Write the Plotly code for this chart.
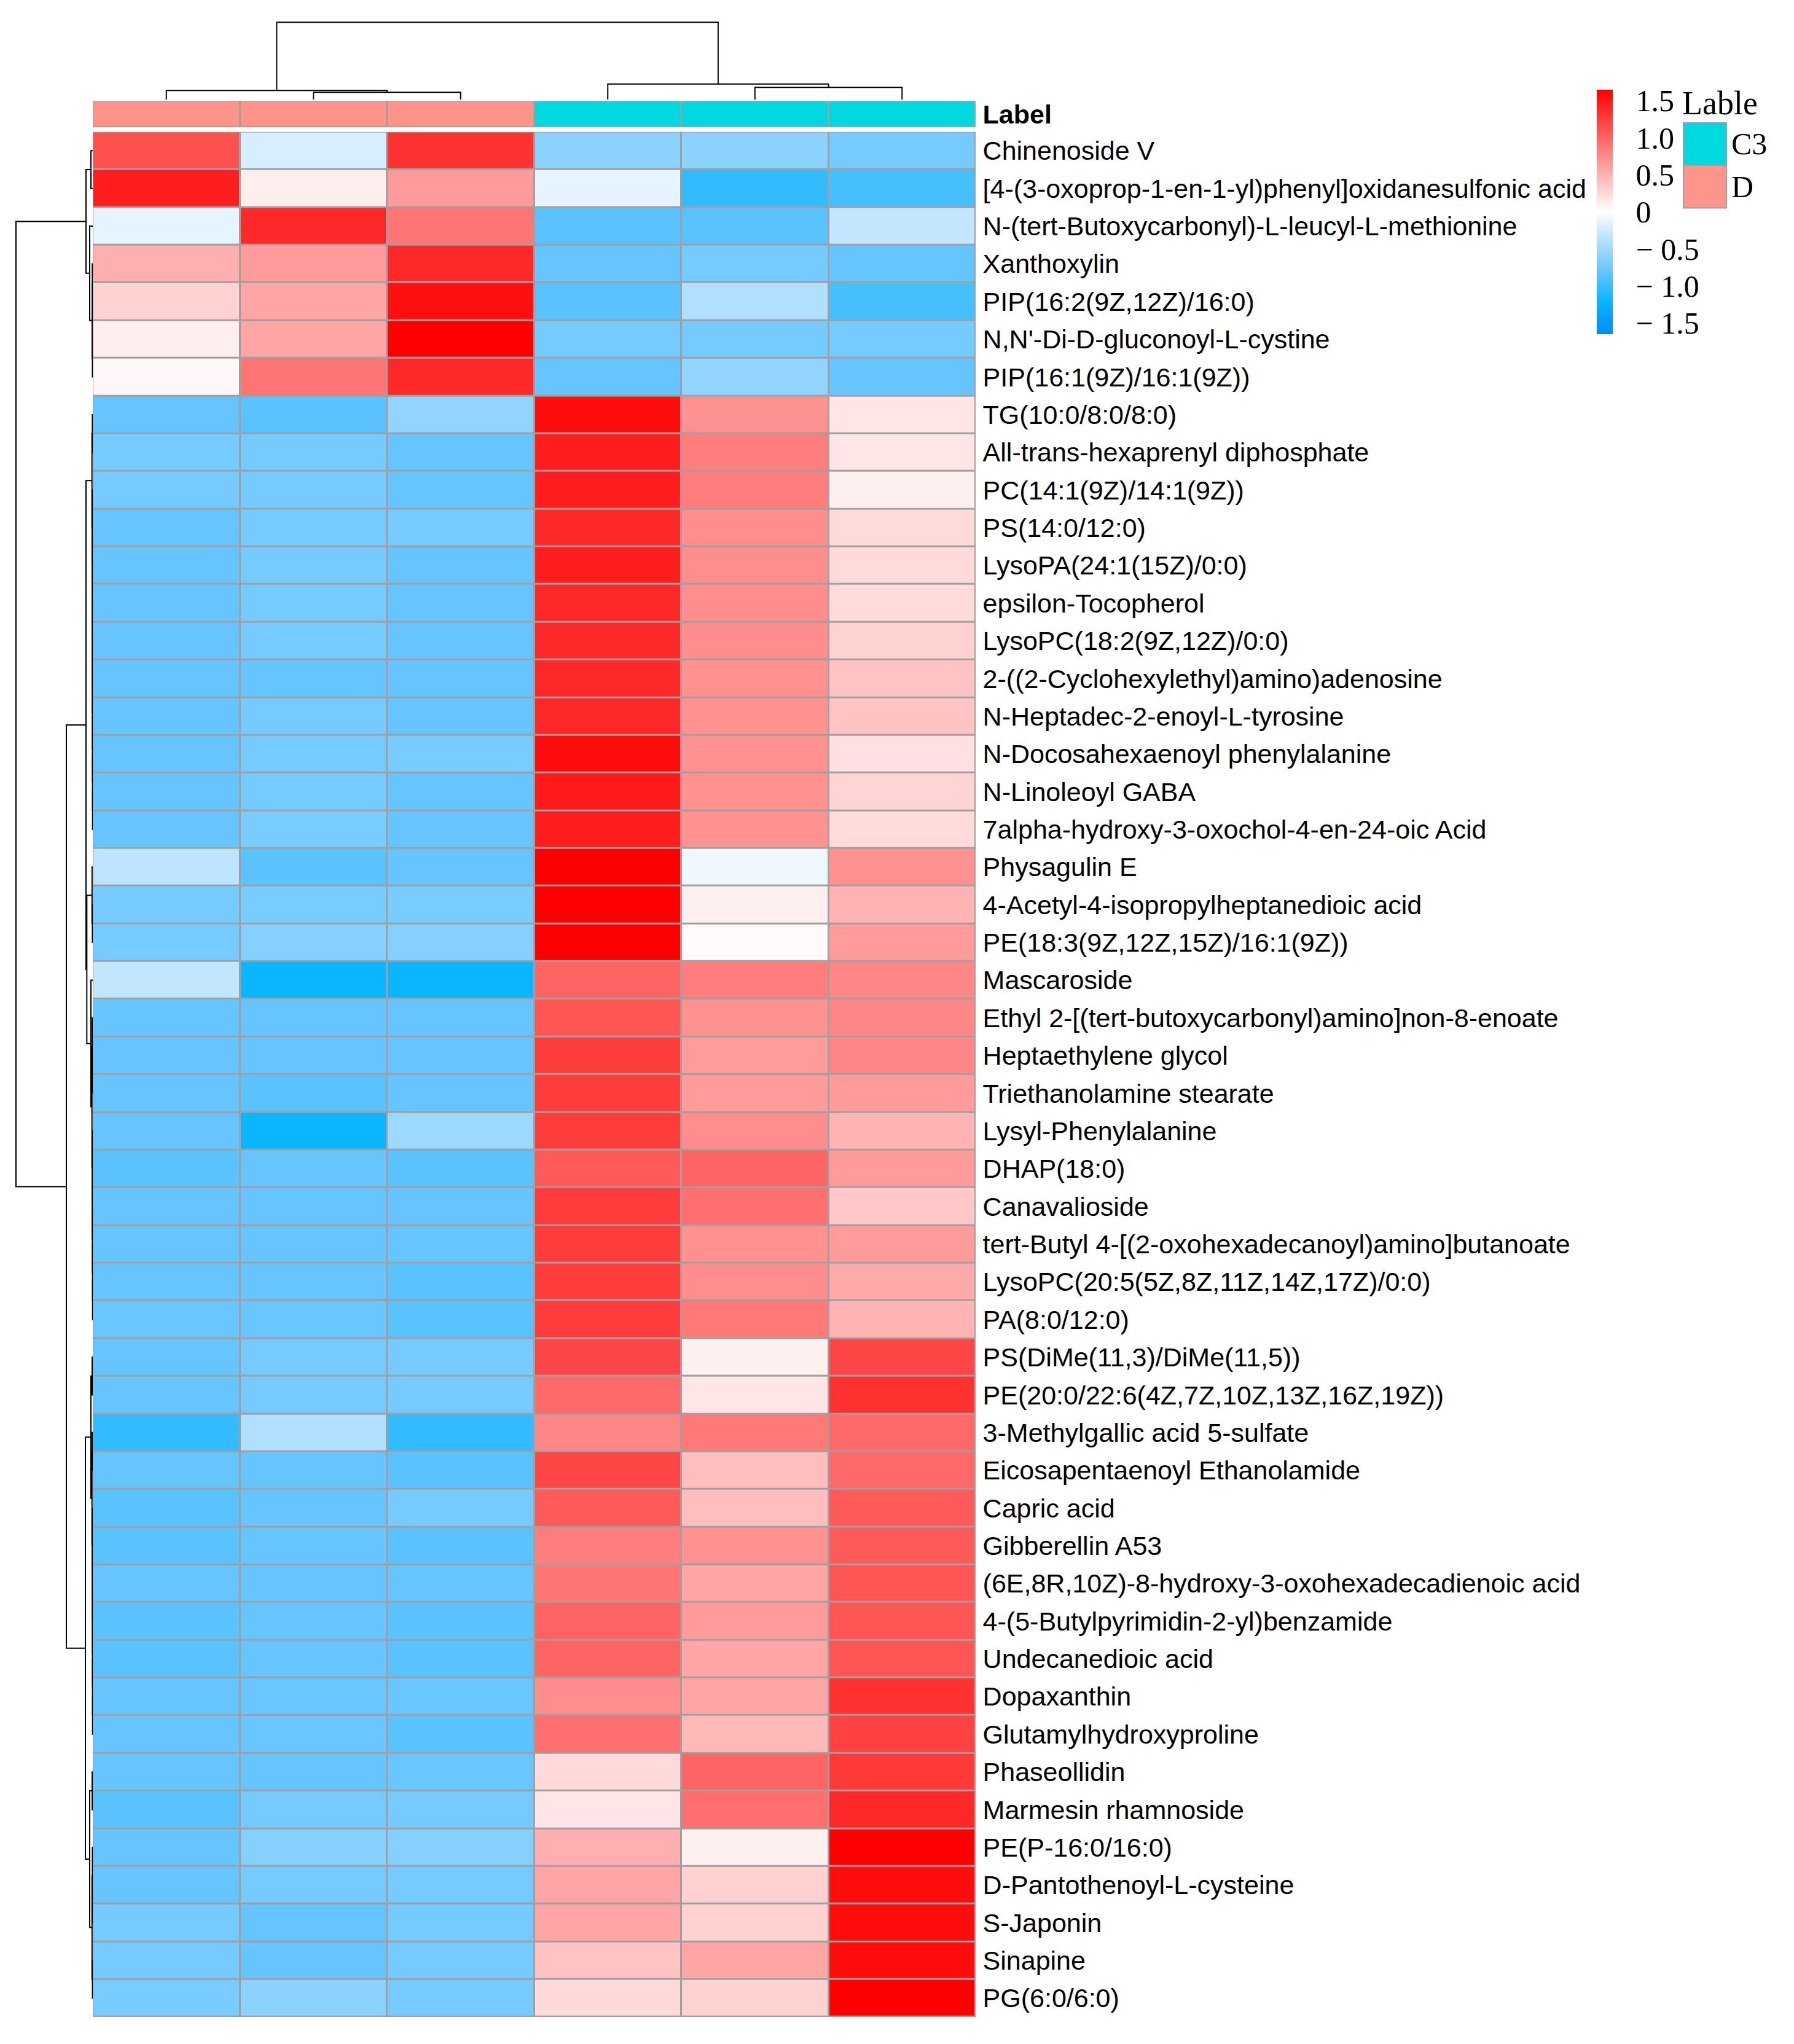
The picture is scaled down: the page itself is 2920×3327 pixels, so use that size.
import plotly.graph_objects as go

# canvas size in px; the page body adds an 8px margin round the plot div
PAGE_W, PAGE_H = 2920, 3327
PAD = 8
W, H = PAGE_W - 2 * PAD, PAGE_H - 2 * PAD


def fx(px):
    return (px - PAD) / W


def fy(py):
    return 1 - (py - PAD) / H


# ---- data ----
row_labels = [
    "Chinenoside V", "[4-(3-oxoprop-1-en-1-yl)phenyl]oxidanesulfonic acid",
    "N-(tert-Butoxycarbonyl)-L-leucyl-L-methionine", "Xanthoxylin", "PIP(16:2(9Z,12Z)/16:0)",
    "N,N'-Di-D-gluconoyl-L-cystine", "PIP(16:1(9Z)/16:1(9Z))", "TG(10:0/8:0/8:0)",
    "All-trans-hexaprenyl diphosphate", "PC(14:1(9Z)/14:1(9Z))", "PS(14:0/12:0)",
    "LysoPA(24:1(15Z)/0:0)", "epsilon-Tocopherol", "LysoPC(18:2(9Z,12Z)/0:0)",
    "2-((2-Cyclohexylethyl)amino)adenosine", "N-Heptadec-2-enoyl-L-tyrosine",
    "N-Docosahexaenoyl phenylalanine", "N-Linoleoyl GABA", "7alpha-hydroxy-3-oxochol-4-en-24-oic Acid",
    "Physagulin E", "4-Acetyl-4-isopropylheptanedioic acid", "PE(18:3(9Z,12Z,15Z)/16:1(9Z))",
    "Mascaroside", "Ethyl 2-[(tert-butoxycarbonyl)amino]non-8-enoate", "Heptaethylene glycol",
    "Triethanolamine stearate", "Lysyl-Phenylalanine", "DHAP(18:0)", "Canavalioside",
    "tert-Butyl 4-[(2-oxohexadecanoyl)amino]butanoate", "LysoPC(20:5(5Z,8Z,11Z,14Z,17Z)/0:0)",
    "PA(8:0/12:0)", "PS(DiMe(11,3)/DiMe(11,5))", "PE(20:0/22:6(4Z,7Z,10Z,13Z,16Z,19Z))",
    "3-Methylgallic acid 5-sulfate", "Eicosapentaenoyl Ethanolamide", "Capric acid",
    "Gibberellin A53", "(6E,8R,10Z)-8-hydroxy-3-oxohexadecadienoic acid",
    "4-(5-Butylpyrimidin-2-yl)benzamide", "Undecanedioic acid", "Dopaxanthin",
    "Glutamylhydroxyproline", "Phaseollidin", "Marmesin rhamnoside", "PE(P-16:0/16:0)",
    "D-Pantothenoyl-L-cysteine", "S-Japonin", "Sinapine", "PG(6:0/6:0)",
]

col_groups = ["D", "D", "D", "C3", "C3", "C3"]

# row-scaled values per sample column (top to bottom)
d_1 = [1.13, 1.46, -0.13, 0.52, 0.30, 0.11, 0.05, -0.80, -0.72, -0.72,
       -0.80, -0.80, -0.80, -0.80, -0.80, -0.80, -0.80, -0.80, -0.80, -0.33,
       -0.72, -0.72, -0.30, -0.80, -0.80, -0.80, -0.80, -0.85, -0.80, -0.80,
       -0.80, -0.78, -0.80, -0.80, -1.03, -0.80, -0.85, -0.85, -0.80, -0.85,
       -0.85, -0.80, -0.80, -0.80, -0.85, -0.80, -0.80, -0.72, -0.72, -0.70]
d_2 = [-0.20, 0.11, 1.39, 0.65, 0.58, 0.58, 0.90, -0.85, -0.72, -0.72,
       -0.72, -0.72, -0.72, -0.72, -0.80, -0.72, -0.72, -0.72, -0.70, -0.85,
       -0.70, -0.63, -1.20, -0.80, -0.80, -0.85, -1.20, -0.80, -0.80, -0.80,
       -0.80, -0.78, -0.72, -0.72, -0.40, -0.80, -0.80, -0.80, -0.80, -0.80,
       -0.80, -0.78, -0.78, -0.80, -0.72, -0.63, -0.72, -0.80, -0.80, -0.60]
d_3 = [1.33, 0.65, 0.90, 1.39, 1.55, 1.65, 1.39, -0.57, -0.80, -0.80,
       -0.72, -0.80, -0.80, -0.80, -0.80, -0.80, -0.70, -0.80, -0.80, -0.80,
       -0.70, -0.63, -1.20, -0.80, -0.80, -0.80, -0.51, -0.85, -0.80, -0.80,
       -0.85, -0.85, -0.72, -0.72, -1.03, -0.85, -0.72, -0.85, -0.80, -0.85,
       -0.85, -0.78, -0.85, -0.78, -0.72, -0.63, -0.72, -0.72, -0.72, -0.72]
c3_1 = [-0.60, -0.13, -0.85, -0.80, -0.85, -0.72, -0.80, 1.57, 1.46, 1.46,
        1.39, 1.46, 1.39, 1.39, 1.39, 1.39, 1.57, 1.49, 1.46, 1.65,
        1.65, 1.65, 1.00, 1.10, 1.26, 1.26, 1.26, 1.07, 1.26, 1.26,
        1.26, 1.26, 1.20, 0.97, 0.78, 1.20, 1.07, 0.84, 0.90, 1.00,
        1.00, 0.74, 0.93, 0.24, 0.17, 0.52, 0.58, 0.58, 0.39, 0.24]
c3_2 = [-0.60, -1.03, -0.85, -0.72, -0.40, -0.72, -0.57, 0.71, 0.84, 0.84,
        0.74, 0.74, 0.74, 0.74, 0.71, 0.71, 0.71, 0.71, 0.71, -0.08,
        0.10, 0.03, 0.84, 0.71, 0.65, 0.65, 0.74, 1.00, 0.93, 0.71,
        0.74, 0.87, 0.10, 0.16, 0.87, 0.43, 0.43, 0.71, 0.58, 0.65,
        0.58, 0.58, 0.45, 1.00, 0.93, 0.10, 0.30, 0.30, 0.58, 0.30]
c3_3 = [-0.72, -0.94, -0.30, -0.80, -0.94, -0.72, -0.80, 0.17, 0.17, 0.10,
        0.24, 0.24, 0.23, 0.29, 0.39, 0.39, 0.21, 0.28, 0.23, 0.71,
        0.49, 0.65, 0.78, 0.78, 0.78, 0.65, 0.49, 0.65, 0.36, 0.65,
        0.55, 0.49, 1.20, 1.33, 0.97, 0.97, 1.07, 1.07, 1.10, 1.10,
        1.10, 1.33, 1.23, 1.29, 1.39, 1.65, 1.57, 1.57, 1.57, 1.65]

# dendrograms: (left, right, height); ids >= n are earlier merges
col_linkage = [(1, 2, 12.0), (0, 6, 15.0), (4, 5, 20.0), (3, 8, 25.5), (7, 9, 126.0)]

row_linkage = [
    (0, 1, 3.0), (3, 4, 0.8), (5, 6, 0.6), (51, 52, 1.0), (2, 53, 5.0), (50, 54, 11.0),
    (7, 8, 0.7), (17, 18, 0.3), (16, 57, 0.4), (15, 58, 0.5), (14, 59, 0.6), (13, 60, 0.7),
    (12, 61, 0.8), (11, 62, 0.9), (10, 63, 1.0), (9, 64, 1.1), (56, 65, 1.3),
    (20, 21, 0.6), (19, 67, 1.2),
    (24, 25, 0.4), (23, 69, 0.7), (30, 31, 0.3), (29, 71, 0.4), (28, 72, 0.6), (27, 73, 0.8),
    (26, 74, 1.0), (70, 75, 1.3), (22, 76, 3.0), (68, 77, 9.7), (66, 78, 11.0),
    (32, 33, 1.0), (34, 35, 0.8), (41, 42, 0.3), (40, 82, 0.4), (39, 83, 0.5), (38, 84, 0.6),
    (37, 85, 0.8), (36, 86, 1.0), (81, 87, 1.3), (80, 88, 3.0),
    (43, 44, 1.0), (46, 47, 0.3), (45, 91, 0.6), (48, 49, 0.5), (92, 93, 1.2), (90, 94, 5.0),
    (89, 95, 12.0), (79, 96, 43.0), (55, 97, 125.0),
]

group_colors = {"C3": "#00D9E0", "D": "#FF948A"}
legend_order = ["C3", "D"]

# ---- styling ----
label_font = dict(family="Liberation Sans, Arial", size=43, color="black")
legend_font = dict(family="Liberation Serif, Times New Roman", size=50, color="black")
grid_gray = "#A0A0A0"

colorscale = [
    [0.0, "rgb(0,140,255)"],
    [0.136, "rgb(11,181,255)"],
    [0.258, "rgb(102,197,255)"],
    [0.409, "rgb(195,230,255)"],
    [0.5, "rgb(255,255,255)"],
    [1.0, "rgb(255,0,0)"],
]


def dendro_lines(linkage, n_leaves):
    pos = [float(i) for i in range(n_leaves)]
    hgt = [0.0] * n_leaves
    p, h = [], []
    for a, b, d in linkage:
        p += [pos[a], pos[a], pos[b], pos[b], None]
        h += [hgt[a], d, d, hgt[b], None]
        pos.append((pos[a] + pos[b]) / 2)
        hgt.append(d)
    return p, h


n_rows = len(row_labels)
n_cols = len(col_groups)
z = [[d_1[i], d_2[i], d_3[i], c3_1[i], c3_2[i], c3_3[i]] for i in range(n_rows)]

fig = go.Figure()

# main heatmap
fig.add_trace(go.Heatmap(
    z=z, x=list(range(n_cols)), y=list(range(n_rows)),
    colorscale=colorscale, zmin=-1.65, zmax=1.65, xgap=3, ygap=3,
    xaxis="x", yaxis="y", hoverinfo="z",
    colorbar=dict(
        x=fx(2599), xanchor="left", y=fy(143), yanchor="top",
        len=398, lenmode="pixels", thickness=26, thicknessmode="pixels",
        outlinewidth=0, xpad=0, ypad=0,
        tickvals=[-1.5, -1.0, -0.5, 0, 0.5, 1.0, 1.5],
        ticktext=["\u2212 1.5", "\u2212 1.0", "\u2212 0.5", "0", "0.5", "1.0", "1.5"],
        ticks="outside", ticklen=28, tickcolor="rgba(0,0,0,0)",
        tickfont=legend_font,
    ),
))

# group annotation bar
group_code = [legend_order.index(g) for g in col_groups]
fig.add_trace(go.Heatmap(
    z=[group_code], x=list(range(n_cols)), y=[0],
    colorscale=[[0, group_colors["C3"]], [0.5, group_colors["C3"]],
                [0.5, group_colors["D"]], [1, group_colors["D"]]],
    zmin=0, zmax=1, showscale=False, xgap=3, ygap=3,
    xaxis="x", yaxis="y2", hoverinfo="skip",
))

# column dendrogram
cp, ch = dendro_lines(col_linkage, n_cols)
fig.add_trace(go.Scatter(x=cp, y=ch, mode="lines", line=dict(color="black", width=2),
                         xaxis="x", yaxis="y3", hoverinfo="skip", showlegend=False))

# row dendrogram
rp, rh = dendro_lines(row_linkage, n_rows)
fig.add_trace(go.Scatter(x=rh, y=rp, mode="lines", line=dict(color="black", width=2),
                         xaxis="x2", yaxis="y", hoverinfo="skip", showlegend=False))

hidden = dict(showgrid=False, zeroline=False, showline=False, showticklabels=False, ticks="")

fig.update_layout(
    width=W, height=H,
    margin=dict(l=0, r=0, t=0, b=0),
    paper_bgcolor="white", plot_bgcolor="white",
    showlegend=False,
    xaxis=dict(domain=[fx(151), fx(1588)], range=[-0.5, n_cols - 0.5], anchor="y", **hidden),
    yaxis=dict(domain=[fy(3286), fy(212)], range=[n_rows - 0.5, -0.5], anchor="x",
               side="right", showgrid=False, zeroline=False, showline=False,
               tickmode="array", tickvals=list(range(n_rows)), ticktext=row_labels,
               ticks="outside", ticklen=2, tickcolor="rgba(0,0,0,0)", tickfont=label_font),
    yaxis2=dict(domain=[fy(204.5), fy(161.6)], range=[-0.5, 0.5], anchor="x",
                side="right", showgrid=False, zeroline=False, showline=False,
                tickmode="array", tickvals=[0], ticktext=["<b>Label</b>"],
                ticks="outside", ticklen=2, tickcolor="rgba(0,0,0,0)", tickfont=label_font),
    yaxis3=dict(domain=[fy(159.4), fy(32)], range=[0, 127.4], anchor="x", **hidden),
    xaxis2=dict(domain=[fx(25), fx(151)], range=[126, 0], anchor="y", **hidden),
)

# gray behind the cells so the gaps read as borders
for yref in ["y domain", "y2 domain"]:
    fig.add_shape(type="rect", xref="x domain", yref=yref, x0=0, x1=1, y0=0, y1=1,
                  fillcolor=grid_gray, line=dict(width=0), layer="below")

# group legend
fig.add_annotation(text="Lable", x=fx(2736), y=fy(165), xref="paper", yref="paper",
                   xanchor="left", yanchor="middle", showarrow=False,
                   font=dict(family=legend_font["family"], size=54, color="black"))
box_top = 197
box_h = 69.5
for i, g in enumerate(legend_order):
    y0 = box_top + i * box_h
    fig.add_shape(type="rect", xref="paper", yref="paper",
                  x0=fx(2740), x1=fx(2810), y0=fy(y0 + box_h), y1=fy(y0),
                  fillcolor=group_colors[g], line=dict(color=grid_gray, width=2))
    fig.add_annotation(text=g, x=fx(2816), y=fy(y0 + box_h / 2), xref="paper", yref="paper",
                       xanchor="left", yanchor="middle", showarrow=False, font=legend_font)

fig.write_html("out.html")
